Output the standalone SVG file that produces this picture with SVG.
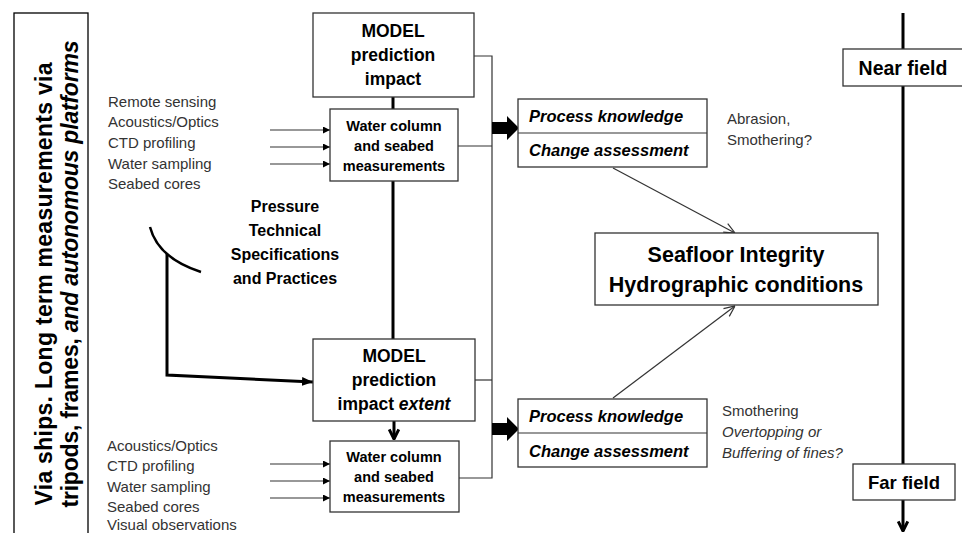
<svg xmlns="http://www.w3.org/2000/svg" width="962" height="533" viewBox="0 0 962 533">
<style>
text{font-family:"Liberation Sans",Arial,sans-serif;fill:#000}
.box{fill:#fff;stroke:#333;stroke-width:1.3}
.b{font-weight:bold}
.bi{font-weight:bold;font-style:italic}
.lst{font-size:15px;fill:#333}
.thin{stroke:#333;stroke-width:1.2;fill:none}
.thick{stroke:#000;stroke-width:3;fill:none}
</style>
<defs>
<marker id="sa" viewBox="0 0 10 10" refX="10" refY="5" markerWidth="7" markerHeight="7" orient="auto" markerUnits="userSpaceOnUse"><path d="M0,0L10,5L0,10z" fill="#000"/></marker>
<marker id="fa" viewBox="0 0 10 10" refX="10" refY="5" markerWidth="11" markerHeight="11" orient="auto" markerUnits="userSpaceOnUse"><path d="M0,1L10,5L0,9z" fill="#000"/></marker>
<marker id="oa" viewBox="0 0 10 10" refX="10" refY="5" markerWidth="12" markerHeight="12" orient="auto" markerUnits="userSpaceOnUse"><path d="M1,1L10,5L1,9" fill="none" stroke="#333" stroke-width="1"/></marker>
<marker id="va" viewBox="0 0 10 10" refX="9" refY="5" markerWidth="12" markerHeight="12" orient="auto" markerUnits="userSpaceOnUse"><path d="M1,1L9,5L1,9" fill="none" stroke="#000" stroke-width="2.5"/></marker>
</defs>

<g id="connectors">
<line class="thick" x1="393" y1="97" x2="393" y2="109"/>
<line class="thick" x1="393" y1="181" x2="393" y2="339"/>
<line class="thick" x1="394" y1="421" x2="394" y2="439" marker-end="url(#va)"/>
<polyline class="thin" points="474,56 492,56 492,478 459,478"/>
<line class="thin" x1="458" y1="146" x2="492" y2="146"/>
<line class="thin" x1="475" y1="380" x2="492" y2="380"/>
<path d="M492,122 L507,122 L507,116 L519,128 L507,140 L507,134 L492,134z" fill="#000"/>
<path d="M492,423 L507,423 L507,417 L519,429 L507,441 L507,435 L492,435z" fill="#000"/>
<line class="thin" x1="270" y1="130" x2="330" y2="130" marker-end="url(#sa)"/>
<line class="thin" x1="270" y1="147" x2="330" y2="147" marker-end="url(#sa)"/>
<line class="thin" x1="270" y1="164" x2="330" y2="164" marker-end="url(#sa)"/>
<line class="thin" x1="270" y1="464" x2="330" y2="464" marker-end="url(#sa)"/>
<line class="thin" x1="270" y1="481" x2="330" y2="481" marker-end="url(#sa)"/>
<line class="thin" x1="270" y1="498" x2="330" y2="498" marker-end="url(#sa)"/>
<path d="M150,227 Q158,258 201,272" fill="none" stroke="#000" stroke-width="2.5"/>
<polyline class="thick" points="167,254 167,375 313,382" marker-end="url(#fa)"/>
<line class="thin" x1="613" y1="168" x2="735" y2="233" marker-end="url(#oa)"/>
<line class="thin" x1="613" y1="398" x2="735" y2="306" marker-end="url(#oa)"/>
<line class="thick" x1="903" y1="13" x2="903" y2="531" marker-end="url(#va)"/>
</g>

<g id="left-panel">
<rect x="14" y="13" width="74" height="530" fill="#fff" stroke="#000" stroke-width="1.3"/>
<text class="b" font-size="23" transform="translate(52,284) rotate(-90)" text-anchor="middle" textLength="443">Via ships. Long term measurements via</text>
<text class="b" font-size="23" transform="translate(78,274) rotate(-90)" text-anchor="middle" textLength="467">tripods, frames, <tspan font-style="italic">and autonomous platforms</tspan></text>
</g>

<g id="model1">
<rect class="box" x="313" y="13" width="161" height="84"/>
<text class="b" font-size="17.5" x="393" y="37" text-anchor="middle">MODEL</text>
<text class="b" font-size="17.5" x="393" y="61" text-anchor="middle">prediction</text>
<text class="b" font-size="17.5" x="393" y="85" text-anchor="middle">impact</text>
</g>

<g id="water1">
<rect class="box" x="330" y="109" width="128" height="72"/>
<text class="b" font-size="14.5" x="394" y="131" text-anchor="middle">Water column</text>
<text class="b" font-size="14.5" x="394" y="151" text-anchor="middle">and seabed</text>
<text class="b" font-size="14.5" x="394" y="171" text-anchor="middle">measurements</text>
</g>

<g id="list1">
<text class="lst" x="108" y="107">Remote sensing</text>
<text class="lst" x="108" y="127">Acoustics/Optics</text>
<text class="lst" x="108" y="148">CTD profiling</text>
<text class="lst" x="108" y="169">Water sampling</text>
<text class="lst" x="108" y="189">Seabed cores</text>
</g>

<g id="pressure">
<text class="b" font-size="16" x="285" y="212" text-anchor="middle">Pressure</text>
<text class="b" font-size="16" x="285" y="236" text-anchor="middle">Technical</text>
<text class="b" font-size="16" x="285" y="260" text-anchor="middle">Specifications</text>
<text class="b" font-size="16" x="285" y="284" text-anchor="middle">and Practices</text>
</g>

<g id="model2">
<rect class="box" x="313" y="339" width="162" height="82"/>
<text class="b" font-size="17.5" x="394" y="362" text-anchor="middle">MODEL</text>
<text class="b" font-size="17.5" x="394" y="386" text-anchor="middle">prediction</text>
<text class="b" font-size="17.5" x="394" y="410" text-anchor="middle">impact <tspan font-style="italic">extent</tspan></text>
</g>

<g id="water2">
<rect class="box" x="330" y="441" width="129" height="71"/>
<text class="b" font-size="14.5" x="394" y="462" text-anchor="middle">Water column</text>
<text class="b" font-size="14.5" x="394" y="482" text-anchor="middle">and seabed</text>
<text class="b" font-size="14.5" x="394" y="502" text-anchor="middle">measurements</text>
</g>

<g id="list2">
<text class="lst" x="107" y="451">Acoustics/Optics</text>
<text class="lst" x="107" y="471">CTD profiling</text>
<text class="lst" x="107" y="492">Water sampling</text>
<text class="lst" x="107" y="512">Seabed cores</text>
<text class="lst" x="107" y="530">Visual observations</text>
</g>

<g id="process1">
<rect class="box" x="518" y="99" width="189" height="68"/>
<line class="thin" x1="518" y1="133" x2="707" y2="133"/>
<text class="bi" font-size="16.5" x="529" y="122">Process knowledge</text>
<text class="bi" font-size="16.5" x="529" y="156">Change assessment</text>
</g>

<g id="note1">
<text class="lst" x="727" y="124">Abrasion,</text>
<text class="lst" x="727" y="145">Smothering?</text>
</g>

<g id="seafloor">
<rect class="box" x="595" y="233" width="283" height="72"/>
<text class="b" font-size="21.5" x="736" y="262" text-anchor="middle">Seafloor Integrity</text>
<text class="b" font-size="21.5" x="736" y="292" text-anchor="middle">Hydrographic conditions</text>
</g>

<g id="process2">
<rect class="box" x="518" y="399" width="189" height="68"/>
<line class="thin" x1="518" y1="433" x2="707" y2="433"/>
<text class="bi" font-size="16.5" x="529" y="422">Process knowledge</text>
<text class="bi" font-size="16.5" x="529" y="457">Change assessment</text>
</g>

<g id="note2">
<text class="lst" x="722" y="416">Smothering</text>
<text class="lst" x="722" y="437" font-style="italic">Overtopping or</text>
<text class="lst" x="722" y="458" font-style="italic">Buffering of fines?</text>
</g>

<g id="nearfield">
<rect class="box" x="843" y="49" width="125" height="37"/>
<text class="b" font-size="19.5" x="903" y="75" text-anchor="middle">Near field</text>
</g>

<g id="farfield">
<rect class="box" x="853" y="464" width="102" height="36"/>
<text class="b" font-size="18.5" x="904" y="489" text-anchor="middle">Far field</text>
</g>
</svg>
